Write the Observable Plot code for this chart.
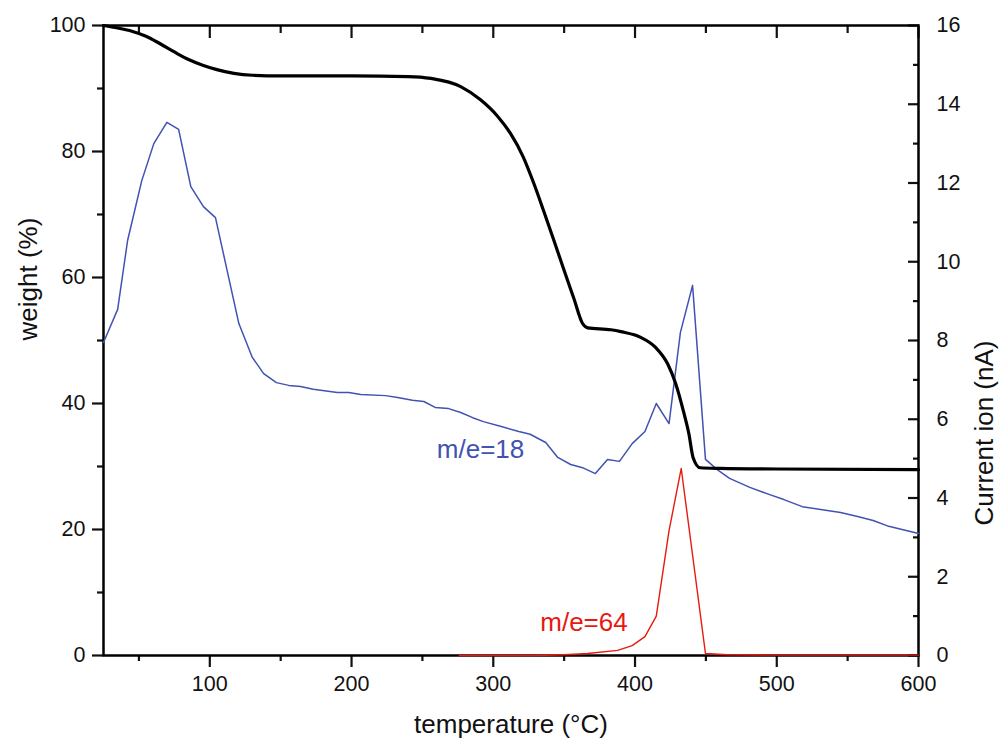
<!DOCTYPE html>
<html>
<head>
<meta charset="utf-8">
<script src="https://cdn.jsdelivr.net/npm/d3@7"></script>
<script src="https://cdn.jsdelivr.net/npm/@observablehq/plot@0.6"></script>
<style>
  html, body { margin: 0; padding: 0; background: #fff; }
  #chart { width: 1000px; height: 740px; }
</style>
</head>
<body>
<div id="chart"></div>
<script>
// ---- Data ----
// TG curve: temperature (°C) and weight (%)
const tgTemp = [25, 35, 45, 55, 65, 75, 85, 95, 105, 117, 130, 150, 200, 240, 256, 277, 291, 303, 312, 321, 328.5, 335.5, 342.6, 349.7, 356.8, 363, 366.6, 383, 390, 404, 414.5, 423, 428.6, 434, 438, 441, 446, 460, 500, 600];
const tgWeight = [100, 99.6, 99.1, 98.3, 97.1, 95.8, 94.6, 93.7, 93.0, 92.4, 92.1, 92.0, 92.0, 91.9, 91.6, 90.3, 88.2, 85.6, 82.9, 79.2, 75.0, 70.6, 66.0, 61.3, 56.7, 52.7, 52.0, 51.7, 51.4, 50.5, 48.9, 46.3, 43.2, 38.9, 35.2, 31.4, 29.8, 29.7, 29.6, 29.5];

// MS m/e=18: temperature (°C) and ion current (nA)
const ms18Temp = [25, 35, 42, 52, 60.5, 69.7, 78, 86.6, 95.5, 104, 112.7, 120.5, 130, 138, 147, 155.7, 164, 173, 190, 198, 206.5, 224, 232.5, 243, 251, 259, 268.5, 277, 285.5, 293, 305, 318, 326, 337, 345.5, 354.6, 363, 372, 380.6, 389, 398, 407, 415, 424, 432, 440.6, 449.7, 458, 466.7, 481, 493, 505, 518, 531, 545, 557, 568, 579, 600];
const ms18Current = [7.95, 8.79, 10.54, 12.06, 13.0, 13.54, 13.36, 11.91, 11.4, 11.12, 9.7, 8.43, 7.57, 7.16, 6.93, 6.86, 6.83, 6.76, 6.68, 6.68, 6.63, 6.6, 6.55, 6.48, 6.45, 6.3, 6.27, 6.17, 6.04, 5.94, 5.82, 5.69, 5.62, 5.41, 5.03, 4.85, 4.77, 4.62, 4.98, 4.93, 5.38, 5.69, 6.4, 5.89, 8.2, 9.4, 4.98, 4.72, 4.5, 4.27, 4.11, 3.96, 3.78, 3.71, 3.63, 3.53, 3.43, 3.28, 3.1];

// MS m/e=64
const ms64Temp = [276, 300, 330, 350, 366.5, 387.7, 398, 407, 415, 424, 432.6, 449.7, 465, 500, 600];
const ms64Current = [0, 0, 0, 0.02, 0.05, 0.13, 0.25, 0.48, 1.0, 3.17, 4.75, 0.05, 0.02, 0.01, 0.01];

// Ticks
const xMajorTicks = [100, 200, 300, 400, 500, 600];
const xMinorTicks = [50, 150, 250, 350, 450, 550];
const weightMajorTicks = [0, 20, 40, 60, 80, 100];
const weightMinorTicks = [10, 30, 50, 70, 90];
const currentMajorTicks = [0, 2, 4, 6, 8, 10, 12, 14, 16];
const currentMinorTicks = [1, 3, 5, 7, 9, 11, 13, 15];

// Series labels
const seriesLabels = ["m/e=18", "m/e=64"];
const seriesLabelTemp = [291, 364];
const seriesLabelCurrent = [5.23, 0.83];
const seriesColors = ["#4252b2", "#e8190f"];

// ---- Build ----
const currentMax = 16, weightMax = 100;
const toW = c => c * weightMax / currentMax;   // map current onto the weight scale
const fromW = w => Math.round(w * currentMax / weightMax * 1000) / 1000;

const tg = tgTemp.map((t, i) => ({t, w: tgWeight[i]}));
const m18 = ms18Temp.map((t, i) => ({t, w: toW(ms18Current[i])}));
const m64 = ms64Temp.map((t, i) => ({t, w: toW(ms64Current[i])}));
const labels = seriesLabels.map((s, i) => ({s, t: seriesLabelTemp[i], w: toW(seriesLabelCurrent[i]), c: seriesColors[i]}));

const font = "'Liberation Sans', Arial, sans-serif";

const chart = Plot.plot({
  width: 1000,
  height: 740,
  marginLeft: 103,
  marginRight: 82,
  marginTop: 25,
  marginBottom: 85,
  style: {fontFamily: font, fontSize: "21.5px", color: "#111", background: "#fff"},
  x: {domain: [25, 600]},
  y: {domain: [0, 100]},
  marks: [
    // bottom axis
    Plot.axisX(xMajorTicks, {anchor: "bottom", tickSize: 12, tickPadding: 8, strokeWidth: 2.2, label: null, tickFormat: d => String(d)}),
    Plot.axisX(xMinorTicks, {anchor: "bottom", tickSize: 6, strokeWidth: 2.2, label: null, tickFormat: () => ""}),
    // top axis (inward ticks)
    Plot.axisX(xMajorTicks, {anchor: "top", tickSize: -12, strokeWidth: 2.2, label: null, tickFormat: () => ""}),
    Plot.axisX(xMinorTicks, {anchor: "top", tickSize: -7, strokeWidth: 2.2, label: null, tickFormat: () => ""}),
    // left axis
    Plot.axisY(weightMajorTicks, {anchor: "left", tickSize: 11, tickPadding: 7, strokeWidth: 2.2, label: null, tickFormat: d => String(d)}),
    Plot.axisY(weightMinorTicks, {anchor: "left", tickSize: 6, strokeWidth: 2.2, label: null, tickFormat: () => ""}),
    // right axis (inward ticks)
    Plot.axisY(currentMajorTicks.map(toW), {anchor: "right", tickSize: -11, tickPadding: 29, strokeWidth: 2.2, label: null, tickFormat: d => String(fromW(d))}),
    Plot.axisY(currentMinorTicks.map(toW), {anchor: "right", tickSize: -6, strokeWidth: 2.2, label: null, tickFormat: () => ""}),
    Plot.frame({stroke: "#000", strokeWidth: 2.5}),
    // series
    Plot.line(m64, {x: "t", y: "w", stroke: seriesColors[1], strokeWidth: 1.4}),
    Plot.line(m18, {x: "t", y: "w", stroke: seriesColors[0], strokeWidth: 1.5}),
    Plot.line(tg, {x: "t", y: "w", stroke: "#000", strokeWidth: 3.2, curve: "monotone-x"}),
    // series labels
    Plot.text(labels, {x: "t", y: "w", text: "s", fill: "c", fontSize: 26, textAnchor: "middle", lineAnchor: "middle"}),
    // axis titles
    Plot.text(["weight (%)"], {frameAnchor: "left", rotate: -90, dx: -75, fontSize: 26, fill: "#111"}),
    Plot.text(["Current ion (nA)"], {frameAnchor: "right", rotate: -90, dx: 66, fontSize: 26, fill: "#111"}),
    Plot.text(["temperature (°C)"], {frameAnchor: "bottom", dy: 77, fontSize: 26, fill: "#111"})
  ]
});
document.getElementById("chart").appendChild(chart);
</script>
</body>
</html>
